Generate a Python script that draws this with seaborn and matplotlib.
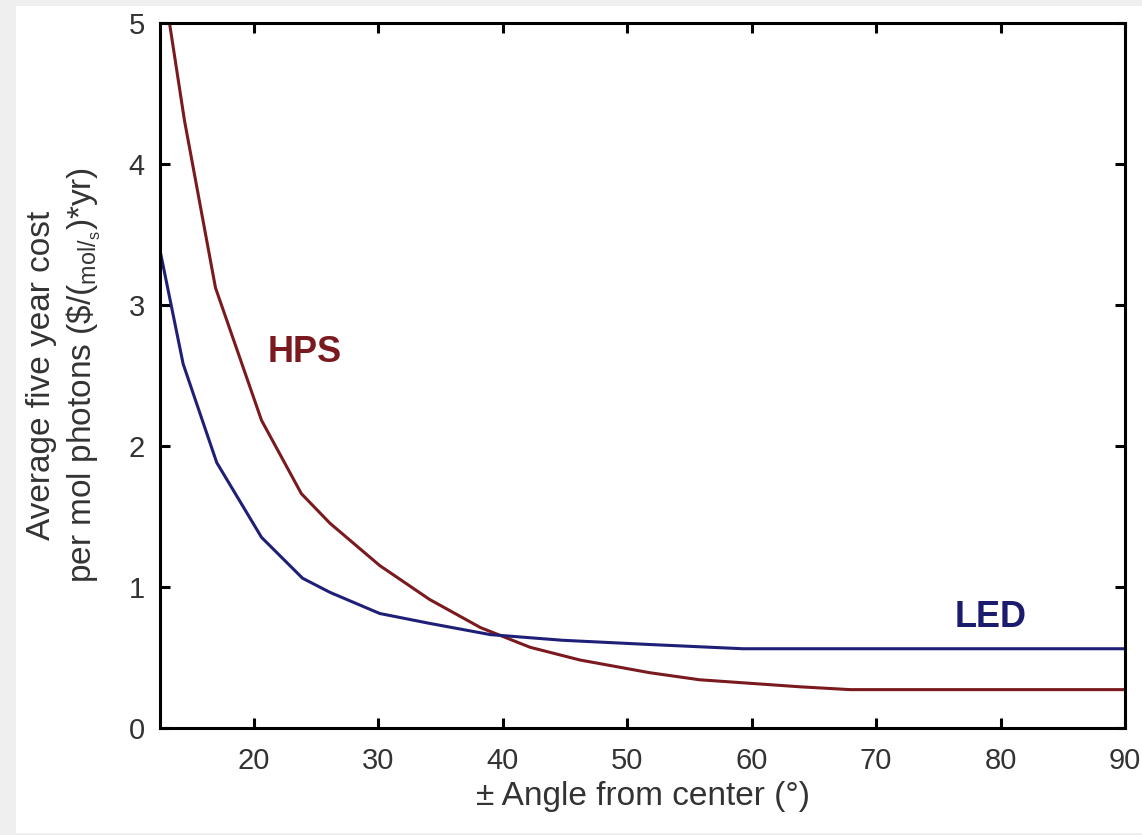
import matplotlib
matplotlib.use("Agg")
import matplotlib.pyplot as plt
import seaborn as sns
import pandas as pd
from matplotlib.patches import Rectangle

# ---- data ----
angle_hps = [13.2, 14.4, 16.9, 20.6, 23.8, 26.1, 30.1, 34.1, 38.2, 42.2, 46.2, 51.8, 55.8, 63.9, 67.9, 90.0]
cost_hps = [5.00, 4.31, 3.12, 2.18, 1.66, 1.45, 1.15, 0.91, 0.71, 0.57, 0.48, 0.39, 0.34, 0.29, 0.27, 0.27]

angle_led = [12.5, 14.3, 17.0, 20.6, 23.9, 26.1, 30.1, 34.1, 39.0, 44.8, 51.8, 59.3, 90.0]
cost_led = [3.36, 2.58, 1.88, 1.35, 1.06, 0.96, 0.81, 0.74, 0.66, 0.62, 0.59, 0.56, 0.56]

series_names = ["HPS", "LED"]
x_ticks = [20, 30, 40, 50, 60, 70, 80, 90]
y_ticks = [0, 1, 2, 3, 4, 5]
x_label = "± Angle from center (°)"
y_label = "Average five year cost\nper mol photons (\\$/($\\mathregular{_{mol/_{s}}}$)*yr)"

df = pd.concat([
    pd.DataFrame({"angle": angle_hps, "cost": cost_hps, "lamp": series_names[0]}),
    pd.DataFrame({"angle": angle_led, "cost": cost_led, "lamp": series_names[1]}),
], ignore_index=True)

sns.set_style("ticks")
plt.rcParams['font.family'] = ['Liberation Sans', 'DejaVu Sans']
plt.rcParams['mathtext.fontset'] = 'custom'
plt.rcParams['mathtext.rm'] = 'Liberation Sans'
plt.rcParams['mathtext.it'] = 'Liberation Sans:italic'
plt.rcParams['mathtext.bf'] = 'Liberation Sans:bold'

line_colors = {"HPS": "#7a1a1f", "LED": "#1f1f78"}
text_colors = {"HPS": "#7a1a1f", "LED": "#1c1c6e"}

W, H = 1142, 835
fig = plt.figure(figsize=(W / 100, H / 100), dpi=100, facecolor="#efefef")
fig.patches.append(Rectangle((16 / W, 2 / H), 1, 1 - 8 / H, transform=fig.transFigure,
                             facecolor="white", edgecolor="none", zorder=-5))

ax = fig.add_axes([160 / W, 1 - 727.7 / H, (1125 - 160) / W, (727.7 - 22.7) / H])
ax.set_facecolor("white")

sns.lineplot(data=df, x="angle", y="cost", hue="lamp", palette=line_colors,
             sort=False, estimator=None, linewidth=2.2, legend=False, ax=ax)

ax.set_xlim(12.44, 90)
ax.set_ylim(0, 5)
ax.set_xticks(x_ticks)
ax.set_yticks(y_ticks)

for s in ax.spines.values():
    s.set_visible(True)
    s.set_linewidth(2.2)
    s.set_color("black")

ax.tick_params(axis="both", direction="in", length=7, width=2.2, color="black",
               top=True, right=True, labelsize=21, labelcolor="#333333")
ax.tick_params(axis="x", pad=14)
ax.tick_params(axis="y", pad=11)

ax.set_xlabel(x_label, fontsize=24, color="#333333", labelpad=4)
ax.set_ylabel(y_label, fontsize=24, color="#333333", labelpad=18, linespacing=1.3)

ax.text(24.1, 2.66, "HPS", color=text_colors["HPS"], fontsize=26, fontweight="bold",
        ha="center", va="center")
ax.text(79.2, 0.78, "LED", color=text_colors["LED"], fontsize=26, fontweight="bold",
        ha="center", va="center")

fig.savefig("out.png", dpi=100, facecolor=fig.get_facecolor())
